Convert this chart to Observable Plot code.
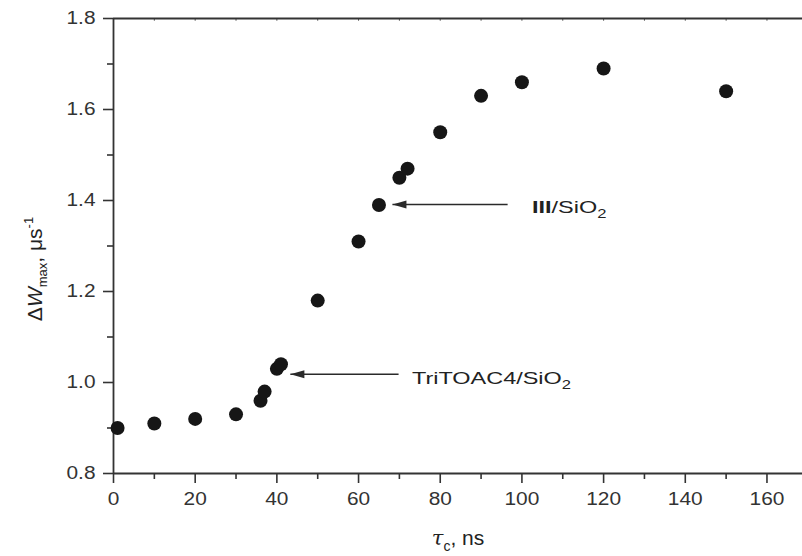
<!DOCTYPE html>
<html>
<head>
<meta charset="utf-8">
<script src="https://cdn.jsdelivr.net/npm/d3@7"></script>
<script src="https://cdn.jsdelivr.net/npm/@observablehq/plot@0.6"></script>
<style>
  body { margin: 0; background: #fff; }
  svg { display: block; }
</style>
</head>
<body>
<script>
// Data
const tau = [1, 10, 20, 30, 36, 37, 40, 41, 50, 60, 65, 70, 72, 80, 90, 100, 120, 150];
const dW  = [0.90, 0.91, 0.92, 0.93, 0.96, 0.98, 1.03, 1.04, 1.18, 1.31, 1.39, 1.45, 1.47, 1.55, 1.63, 1.66, 1.69, 1.64];

const xMajor = [0, 20, 40, 60, 80, 100, 120, 140, 160];
const xMinor = [10, 30, 50, 70, 90, 110, 130, 150];
const xTop = [10, 20, 30, 40, 50, 60, 70, 80, 90, 100, 110, 120, 130, 140, 150, 160];
const yMajor = [0.8, 1.0, 1.2, 1.4, 1.6, 1.8];
const yMinor = [0.9, 1.1, 1.3, 1.5, 1.7];

// Annotations
const annoY = [1.391, 1.018];
const annoTip = [68.3, 43.3];
const annoTail = [96.5, 69.8];
const annoLabelX = [102.6, 73.2];
const annoLabelY = [1.371, 0.996];
const annoBold = ["III", ""];
const annoText = ["/SiO", "TriTOAC4/SiO"];
const annoSub = ["2", "2"];

const ink = "#2a2a2a";
const arrowHead = {
  draw(ctx) { ctx.moveTo(0, 0); ctx.lineTo(14, -4); ctx.lineTo(14, 4); ctx.closePath(); }
};

const chart = Plot.plot({
  width: 802,
  height: 556,
  marginLeft: 113,
  marginRight: 0,
  marginTop: 18,
  marginBottom: 83,
  style: { fontFamily: "'Liberation Sans', Arial, sans-serif", background: "#fff" },
  x: { domain: [0, 168.7], axis: null },
  y: { domain: [0.8, 1.8], axis: null },
  marks: [
    Plot.axisY(yMajor, { tickSize: 10, tickPadding: 8, fontSize: 18, tickFormat: d3.format(".1f"), label: null, color: "#333", strokeWidth: 1.6 }),
    Plot.axisY(yMinor, { tickSize: 6, text: null, label: null, color: "#333", strokeWidth: 1.6 }),
    Plot.axisX(xMajor, { tickSize: 10, tickPadding: 9, fontSize: 18, label: null, color: "#333", strokeWidth: 1.6 }),
    Plot.axisX(xMinor, { tickSize: 6, text: null, label: null, color: "#333", strokeWidth: 1.6 }),
    Plot.ruleX(xTop, { x: d => d, y1: 1.8, y2: 1.794, stroke: "#555", strokeWidth: 1 }),
    Plot.ruleY([0.8, 1.8], { stroke: "#333", strokeWidth: 1.8 }),
    Plot.ruleX([0], { stroke: "#333", strokeWidth: 1.8 }),
    Plot.link(annoY, { x1: annoTip, x2: annoTail, y1: annoY, y2: annoY, stroke: ink, strokeWidth: 1.5 }),
    Plot.dot(annoY, { x: annoTip, y: annoY, symbol: arrowHead, fill: ink, stroke: "none" }),
    Plot.dot(tau, { x: tau, y: dW, r: 7, fill: "#161616", stroke: "none" })
  ]
});
document.body.append(chart);

const svg = d3.select(chart);
const sx = chart.scale("x"), sy = chart.scale("y");

// Stretch tick labels horizontally to match the reference's wide glyphs
svg.selectAll("text").each(function () {
  const len = this.getComputedTextLength();
  if (len > 0) {
    this.setAttribute("textLength", (len * 1.16).toFixed(1));
    this.setAttribute("lengthAdjust", "spacingAndGlyphs");
  }
});

// Annotation labels
annoText.forEach((t, i) => {
  const tx = svg.append("text")
    .attr("x", sx.apply(annoLabelX[i]))
    .attr("y", sy.apply(annoLabelY[i]))
    .attr("text-anchor", "start")
    .attr("font-size", 17)
    .attr("fill", "#222");
  if (annoBold[i]) tx.append("tspan").attr("font-weight", "bold").text(annoBold[i]);
  tx.append("tspan").text(t);
  tx.append("tspan").attr("font-size", 12).attr("dy", 5).text(annoSub[i]);
  const node = tx.node();
  const len = node.getComputedTextLength();
  node.setAttribute("textLength", (len * 1.38).toFixed(1));
  node.setAttribute("lengthAdjust", "spacingAndGlyphs");
});

// X axis label: τ_c, ns
const xl = svg.append("text")
  .attr("x", 458).attr("y", 545)
  .attr("text-anchor", "middle")
  .attr("font-size", 21)
  .attr("fill", "#222");
xl.append("tspan").attr("font-style", "italic").attr("font-family", "'DejaVu Serif', serif").text("τ");
xl.append("tspan").attr("font-size", 14).attr("dy", 6).text("c");
xl.append("tspan").attr("dy", -6).text(", ns");

// Y axis label: ΔW_max, μs^-1
const yl = svg.append("text")
  .attr("transform", "translate(42,269) rotate(-90)")
  .attr("text-anchor", "middle")
  .attr("font-size", 21)
  .attr("fill", "#222");
yl.append("tspan").text("Δ");
yl.append("tspan").attr("font-style", "italic").text("W");
yl.append("tspan").attr("font-size", 13).attr("dy", 5).text("max");
yl.append("tspan").attr("dy", -5).text(", μs");
yl.append("tspan").attr("font-size", 13).attr("dy", -9).text("-1");
</script>
</body>
</html>
